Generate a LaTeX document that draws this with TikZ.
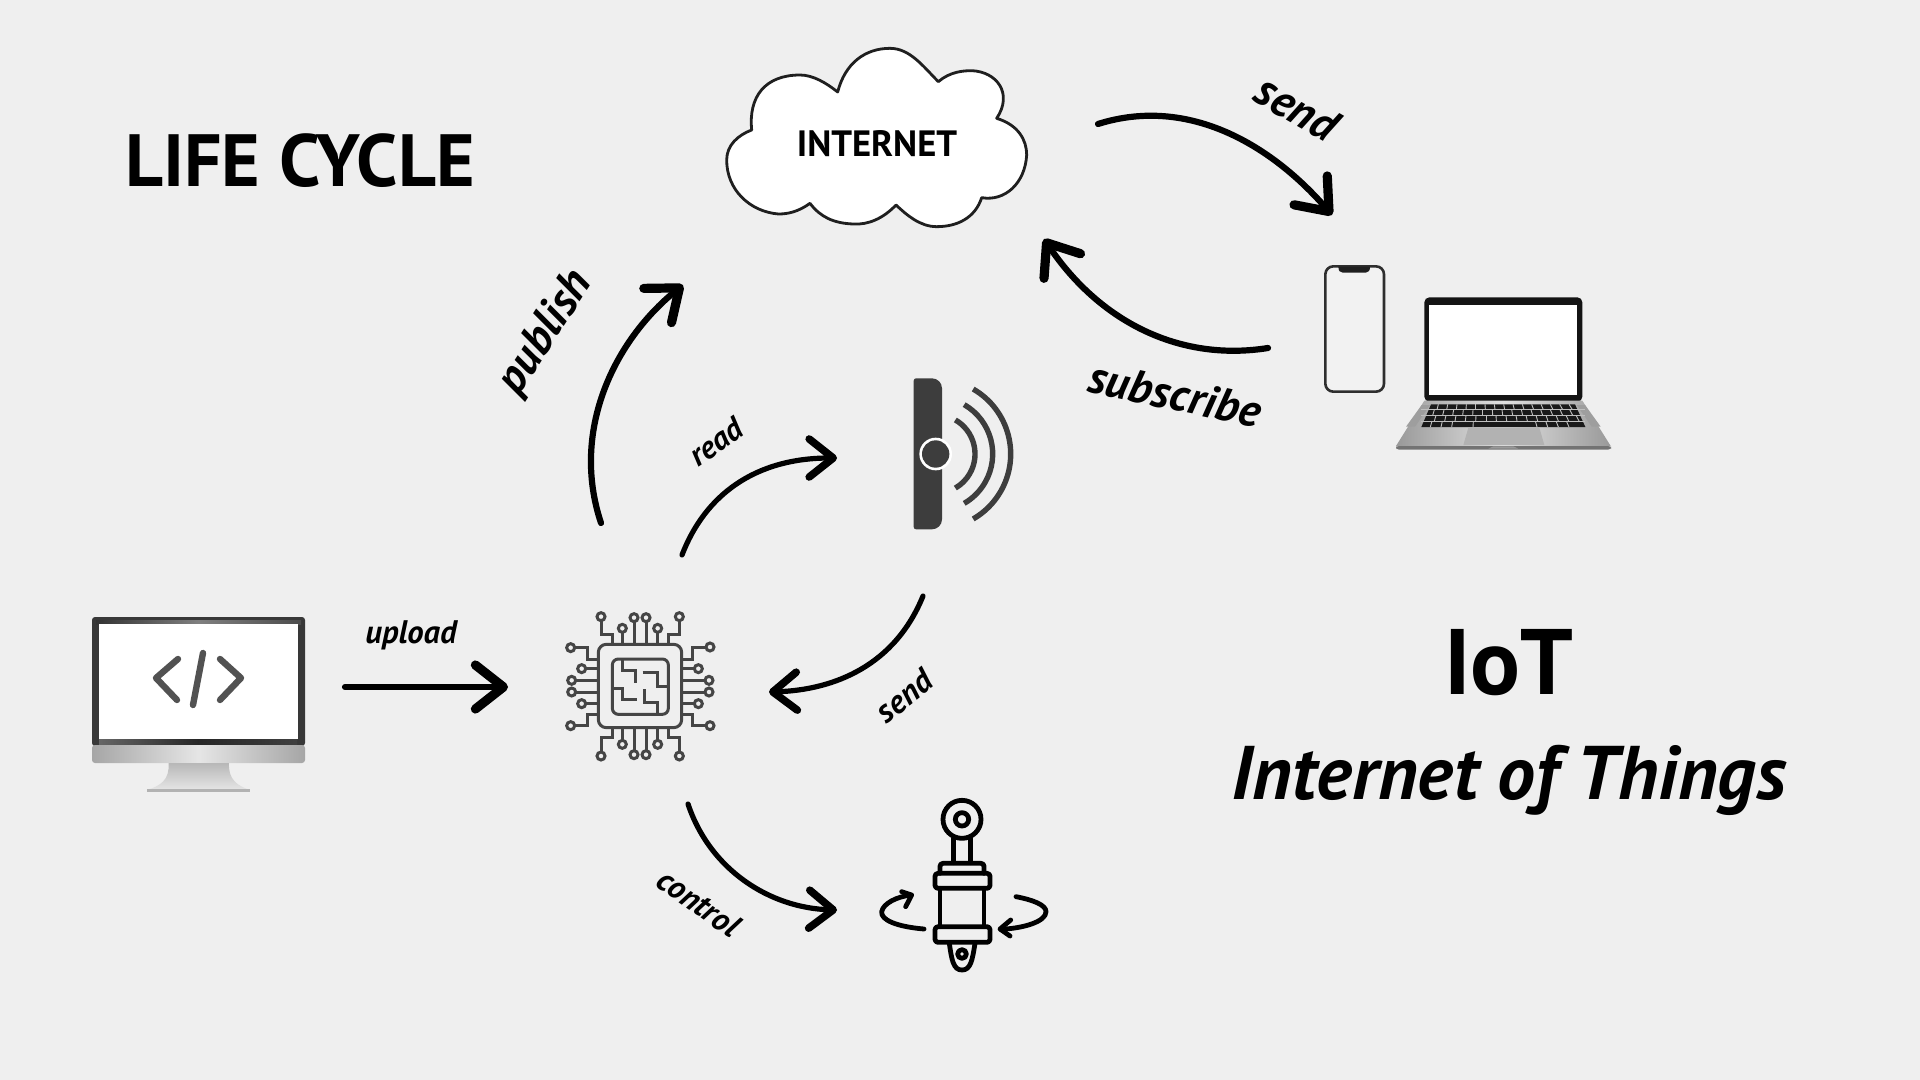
\documentclass[tikz,border=0pt]{standalone}
\usepackage{fontspec}
\setmainfont{PT Sans}
\usetikzlibrary{arrows.meta}
\definecolor{bgc}{HTML}{EFEFEF}
\definecolor{chipc}{HTML}{454545}
\definecolor{sensc}{HTML}{3D3D3D}
\tikzset{
  zm/.style={shift={(#1)},x=0.16667pt,y=-0.16667pt},
  bigarrow/.style={line width=3.1pt,line cap=round,-{Straight Barb[length=14pt,width=22pt,line width=4.6pt,round]}},
  smallarrow/.style={line width=2.6pt,line cap=round,-{Straight Barb[length=12pt,width=19pt,line width=3.8pt,round]}},
  chipline/.style={draw=chipc,line width=1.5pt},
  act/.style={draw=black,line width=2.4pt,line cap=round,line join=round,rounded corners=1.5pt},
}
\begin{document}
\begin{tikzpicture}[x=0.5pt,y=-0.5pt]
\useasboundingbox (0,0) rectangle (1920,1080);
\fill[bgc] (0,0) rectangle (1920,1080);

% titles
\node[inner sep=0pt,font=\bfseries\fontsize{37}{40}\selectfont] (lifecycle) at (300,161) {LIFE CYCLE};
\node[inner sep=0pt,font=\bfseries\fontsize{46.5}{52}\selectfont] (iot) at (1509,663) {IoT};
\node[inner sep=0pt,font=\bfseries\itshape\fontsize{38}{40}\selectfont] (iotlong) at (1509,780) {Internet of Things};

% cloud
\begin{scope}[zm={710,30}]
\draw[fill=white,draw=black!88,line width=1.4pt,line join=round]
 (125,300) .. controls (115,200) and (165,135) .. (270,135)
 .. controls (310,135) and (350,160) .. (383,186)
 .. controls (405,100) and (465,55) .. (540,55)
 .. controls (600,55) and (640,110) .. (685,155)
 .. controls (720,125) and (760,122) .. (785,122)
 .. controls (860,125) and (910,190) .. (860,265)
 .. controls (925,285) and (950,330) .. (950,375)
 .. controls (945,460) and (885,515) .. (815,503)
 .. controls (795,565) and (740,590) .. (680,590)
 .. controls (630,590) and (590,555) .. (558,525)
 .. controls (520,565) and (475,585) .. (430,582)
 .. controls (370,580) and (330,560) .. (300,520)
 .. controls (265,545) and (235,552) .. (205,552)
 .. controls (120,545) and (50,480) .. (50,390)
 .. controls (50,345) and (85,315) .. (125,300) -- cycle;
\end{scope}
\node[inner sep=0pt,font=\bfseries\fontsize{18.3}{20}\selectfont] (internet) at (877,144) {INTERNET};

% desktop monitor
\fill[black!78,rounded corners=1.5pt] (92,617) rectangle (305,746);
\shade[left color=black!80,right color=black!70,middle color=black!50] (96,620) rectangle (301,624);
\shade[left color=black!60,right color=black!75,middle color=black!85] (99,739) rectangle (297,746);
\fill[white] (99,624) rectangle (297.5,739);
\shade[left color=black!35,right color=black!35,middle color=black!10,rounded corners=1.5pt] (92,745) rectangle (305,763);
\shade[top color=black!28,bottom color=black!10] (168.5,763) .. controls (170,780) and (160,786) .. (147,790) -- (250,790) .. controls (238,786) and (228,780) .. (229,763) -- cycle;
\fill[black!30] (147,789) rectangle (250,792);
\draw[draw=black!68,line width=3.2pt,line cap=round,line join=round]
  (178,659) -- (156,678) -- (177,700)
  (220,659) -- (241,678) -- (220,700);
\draw[draw=black!68,line width=3.2pt,line cap=round] (203,653) -- (193,705);

% chip
\begin{scope}[zm={550,600}]
\draw[chipline,rounded corners=4pt] (145,133) rectangle (395,383);
\draw[chipline,rounded corners=3pt] (187,177) rectangle (355,343);
\draw[chipline] (218,180) -- (218,210) -- (255,210) -- (255,250)
 (278,218) -- (322,218) -- (322,258) -- (355,258)
 (190,265) -- (218,265) -- (218,298) -- (262,298)
 (284,267) -- (284,308) -- (322,308) -- (322,340);
% top
\draw[chipline] (187,133) -- (187,103) -- (153,103) -- (153,62)
 (217,133) -- (217,97) (252,133) -- (252,65) (288,133) -- (288,65) (323,133) -- (323,97)
 (355,133) -- (355,103) -- (388,103) -- (388,62);
% bottom
\draw[chipline] (187,383) -- (187,413) -- (153,413) -- (153,456)
 (217,383) -- (217,421) (252,383) -- (252,452) (288,383) -- (288,452) (323,383) -- (323,421)
 (355,383) -- (355,413) -- (388,413) -- (388,456);
% left
\draw[chipline] (145,178) -- (113,178) -- (113,143) -- (74,143)
 (145,206) -- (107,206) (145,241) -- (77,241) (145,276) -- (77,276) (145,311) -- (107,311)
 (145,343) -- (113,343) -- (113,377) -- (74,377);
% right
\draw[chipline] (395,178) -- (427,178) -- (427,143) -- (468,143)
 (395,206) -- (433,206) (395,241) -- (464,241) (395,276) -- (464,276) (395,311) -- (433,311)
 (395,343) -- (427,343) -- (427,377) -- (468,377);
\foreach \a/\b in {153/50,217/85,252/53,288/53,323/85,388/50,
  153/468,217/433,252/464,288/464,323/433,388/468,
  62/143,95/206,65/241,65/276,95/311,62/377,
  480/141,445/206,477/241,477/276,445/311,480/377}{
  \draw[chipline] (\a,\b) circle (12);
}
\end{scope}

% sensor
\begin{scope}[zm={840,350}]
\fill[sensc] (260,85) [rounded corners=5pt] -- (306,85) -- (306,538) [rounded corners=1.2pt] -- (221,538) -- (221,85) -- cycle;
\fill[white] (287,312) circle (49);
\fill[sensc] (287,312) circle (41);
\foreach \r in {118,171,225}{
  \draw[sensc,line width=2.7pt] (287,312) ++(-60:\r) arc (-60:60:\r);
}
\end{scope}

% actuator
\begin{scope}[zm={860,780}]
\draw[act] (306,118) circle (57);
\draw[act] (306,118) circle (20);
\draw[act] (281,175) -- (281,248) (332,175) -- (332,248);
\draw[act] (240,280) -- (240,250) -- (372,250) -- (372,280);
\draw[act] (225,280) rectangle (390,325);
\draw[act] (240,325) -- (240,440) (372,325) -- (372,440);
\draw[act] (225,440) rectangle (390,487);
\draw[act,rounded corners=0pt] (268,490) .. controls (275,540) and (280,570) .. (306,570) .. controls (332,570) and (337,540) .. (345,490);
\draw[act] (306,522) circle (13);
\draw[act,rounded corners=0pt] (192,447) .. controls (110,440) and (62,420) .. (65,395) .. controls (70,370) and (110,350) .. (153,345);
\draw[act,rounded corners=0pt] (125,335) -- (155,345) -- (137,380);
\draw[act,rounded corners=0pt] (468,350) .. controls (520,360) and (558,375) .. (558,395) .. controls (558,425) and (490,445) .. (422,448);
\draw[act,rounded corners=0pt] (452,420) -- (420,447) -- (450,468);
\end{scope}

% phone
\begin{scope}[zm={1300,250}]
\draw[fill=black!5,draw=black!82,line width=1.3pt,rounded corners=4pt] (76,49) rectangle (252,425);
\fill[black!88] (115,50) -- (210,50) .. controls (210,62) and (205,68) .. (197,68) -- (128,68) .. controls (120,68) and (115,62) .. (115,50) -- cycle;
% laptop
\fill[black!92,rounded corners=2.5pt] (373,142) -- (847,142) -- (847,455) -- (373,455) -- cycle;
\fill[white] (388,165) rectangle (830,435);
\shade[left color=black!40,right color=black!40,middle color=black!12] (373,452) -- (847,452) -- (932,588) -- (932,590) -- (288,590) -- (288,588) -- cycle;
\fill[black!55,rounded corners=1.5pt] (288,588) rectangle (933,599);
\fill[black!40] (565,596) -- (580,589) -- (640,589) -- (655,596) -- cycle;
\fill[black!38] (365,465) -- (390,465) -- (345,530) -- (318,530) -- cycle;
\fill[black!38] (855,465) -- (830,465) -- (875,530) -- (902,530) -- cycle;
\fill[black!90] (393,463) -- (825,463) -- (856,531) -- (364,531) -- cycle;
\foreach \y in {479,496,513}{
  \draw[black!25,line width=0.45pt] (364,\y) -- (856,\y);
}
\foreach \k in {0,...,14}{
  \draw[black!25,line width=0.45pt] ({415+\k*28},463) -- ({411+\k*29},479);
  \draw[black!25,line width=0.45pt] ({403+\k*29},479) -- ({398+\k*30},496);
  \draw[black!25,line width=0.45pt] ({408+\k*30},496) -- ({403+\k*31},513);
}
\foreach \k in {0,1,2,4,10,11,12,13}{
  \draw[black!25,line width=0.45pt] ({396+\k*31},513) -- ({391+\k*32},531);
}
\fill[black!30] (505,533) -- (718,533) -- (733,585) -- (490,585) -- cycle;
\end{scope}

% connector ends
\coordinate (upS) at (345,687);   \coordinate (upE) at (508,687);
\coordinate (pubS) at (601,523);  \coordinate (pubE) at (683,285);
\coordinate (readS) at (682,555); \coordinate (readE) at (837,458);
\coordinate (sndS) at (923,596);  \coordinate (sndE) at (769,692);
\coordinate (ctlS) at (688,804);  \coordinate (ctlE) at (837,910);
\coordinate (cldS) at (1098,124); \coordinate (cldE) at (1332,215);
\coordinate (subS) at (1268,348); \coordinate (subE) at (1044,239);

\draw[bigarrow] (upS) -- (upE);
\draw[bigarrow] (pubS) .. controls (570,430) and (615,340) .. (pubE);
\draw[smallarrow] (readS) .. controls (705,495) and (755,458) .. (readE);
\draw[smallarrow] (sndS) .. controls (895,665) and (835,690) .. (sndE);
\draw[smallarrow] (ctlS) .. controls (710,870) and (770,908) .. (ctlE);
\draw[bigarrow] (cldS) .. controls (1190,95) and (1273,147) .. (cldE);
\draw[bigarrow] (subS) .. controls (1180,362) and (1100,322) .. (subE);

% labels
\node[inner sep=0pt,font=\bfseries\itshape\fontsize{16.3}{17}\selectfont] (lupload) at (411,635) {upload};
\node[inner sep=0pt,font=\bfseries\itshape\fontsize{23}{24}\selectfont,rotate=57] (lpublish) at (546,333) {publish};
\node[inner sep=0pt,font=\bfseries\itshape\fontsize{16}{17}\selectfont,rotate=35] (lread) at (716,442) {read};
\node[inner sep=0pt,font=\bfseries\itshape\fontsize{16.5}{17}\selectfont,rotate=39] (lsend) at (904,696) {send};
\node[inner sep=0pt,font=\bfseries\itshape\fontsize{16.3}{17}\selectfont,rotate=-35] (lcontrol) at (699,903) {control};
\node[inner sep=0pt,font=\bfseries\itshape\fontsize{23}{24}\selectfont,rotate=-30] (lsend2) at (1297,108) {send};
\node[inner sep=0pt,font=\bfseries\itshape\fontsize{23}{24}\selectfont,rotate=-12] (lsub) at (1175,394) {subscribe};
\end{tikzpicture}
\end{document}
